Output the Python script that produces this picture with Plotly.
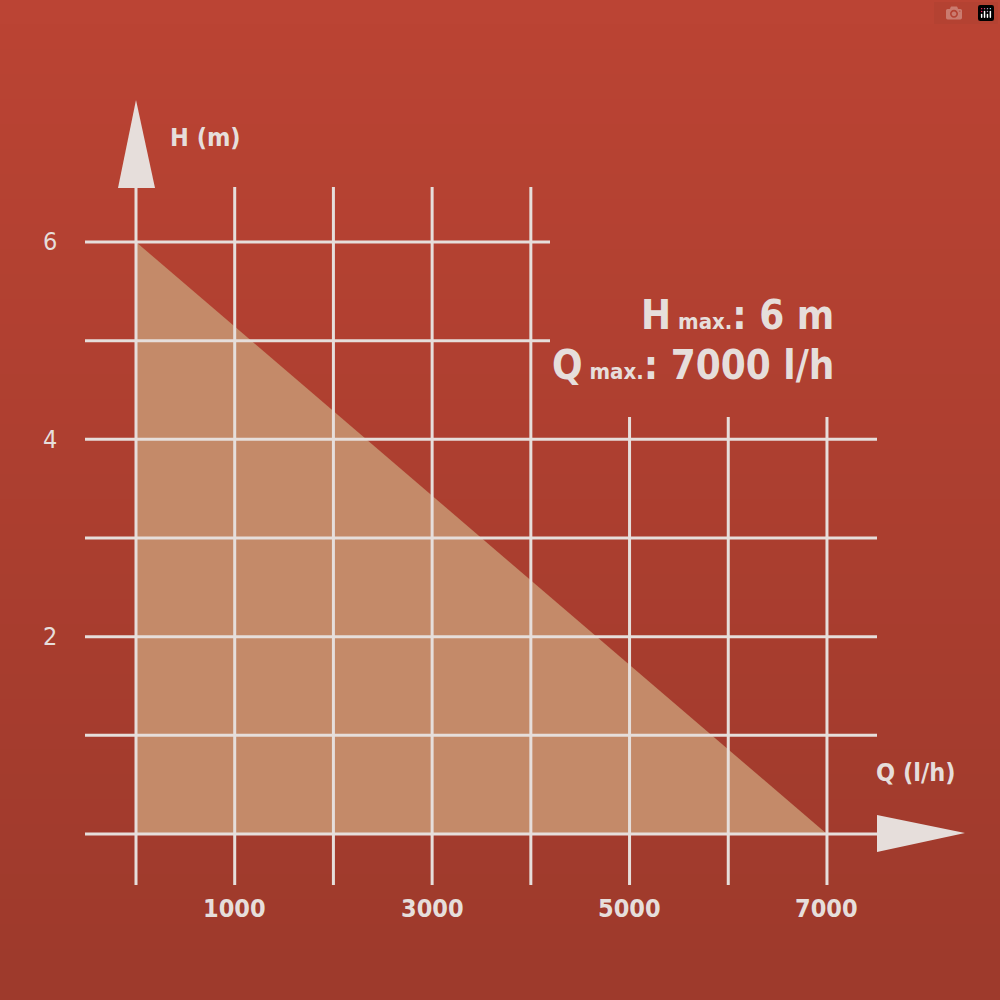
import plotly.graph_objects as go

x_ticks = [1000, 3000, 5000, 7000]
y_ticks = [2, 4, 6]
curve_q = [0, 7000]
curve_h = [6, 0]
grid_h = [0, 1, 2, 3, 4, 5, 6]
grid_q = [0, 1000, 2000, 3000, 4000, 5000, 6000, 7000]

PX = 1000/98.71  # data units per pixel on x
PY = 1/98.67
def dx(px): return (px-136)*PX
def dy(py): return (834-py)*PY

LC = "#e6dedb"
fig = go.Figure()
fig.add_trace(go.Scatter(x=[curve_q[0], curve_q[0], curve_q[1], curve_q[0]],
                         y=[curve_h[0], 0, curve_h[1], curve_h[0]],
                         fill="toself", fillcolor="#c48a69", mode="none",
                         hoverinfo="skip"))
shapes = []
n = 40
c0 = (187, 68, 52); c1 = (158, 58, 44)
for i in range(n):
    t = i/(n-1)
    c = tuple(int(c0[k]+(c1[k]-c0[k])*t) for k in range(3))
    shapes.append(dict(type="rect", xref="paper", yref="paper", x0=0, x1=1,
                       y0=1-(i+1)/n, y1=1-i/n + 0.001, fillcolor="rgb(%d,%d,%d)" % c,
                       line_width=0, layer="below"))
for h in grid_h:
    x1 = dx(550) if h >= 5 else dx(877)
    shapes.append(dict(type="line", x0=dx(85), x1=x1, y0=h, y1=h, line=dict(color=LC, width=3)))
for q in grid_q:
    if q == 0: y1 = dy(170)
    elif q <= 4000: y1 = dy(187)
    else: y1 = dy(417)
    shapes.append(dict(type="line", x0=q, x1=q, y0=dy(885), y1=y1, line=dict(color=LC, width=3)))
shapes.append(dict(type="path", xref="paper", yref="paper",
                   path="M 0.118 0.812 L 0.136 0.900 L 0.155 0.812 Z", fillcolor=LC, line_width=0))
shapes.append(dict(type="path", xref="paper", yref="paper",
                   path="M 0.877 0.185 L 0.965 0.167 L 0.877 0.148 Z", fillcolor=LC, line_width=0))

font = dict(family="DejaVu Sans Condensed", color=LC, size=25)
ann = []
for q in x_ticks:
    ann.append(dict(x=q, y=dy(908), text="<b>%d</b>" % q, showarrow=False, font=font))
for h in y_ticks:
    ann.append(dict(x=dx(50), y=h, text=str(h), showarrow=False, font=font))
ann.append(dict(x=dx(168), y=dy(137), text="<b>H (m)</b>", xanchor="left", showarrow=False, font=font))
ann.append(dict(x=dx(957), y=dy(772), text="<b>Q (l/h)</b>", xanchor="right", showarrow=False, font=font))
big = dict(family="DejaVu Sans Condensed", color=LC, size=40)
ann.append(dict(x=dx(836), y=dy(315), xanchor="right", showarrow=False, font=big,
                text="<b>H<span style='font-size:22px'> max.</span>: 6 m</b>"))
ann.append(dict(x=dx(836), y=dy(365), xanchor="right", showarrow=False, font=big,
                text="<b>Q<span style='font-size:22px'> max.</span>: 7000 l/h</b>"))

fig.update_layout(width=1000, height=1000, margin=dict(l=0, r=0, t=0, b=0),
                  paper_bgcolor="#ad3f30", plot_bgcolor="rgba(0,0,0,0)",
                  shapes=shapes, annotations=ann, showlegend=False,
                  xaxis=dict(range=[dx(0), dx(1000)], visible=False, fixedrange=True),
                  yaxis=dict(range=[dy(1000), dy(0)], visible=False, fixedrange=True))
fig.write_html("out.html", post_script="document.body.style.margin='0';")
